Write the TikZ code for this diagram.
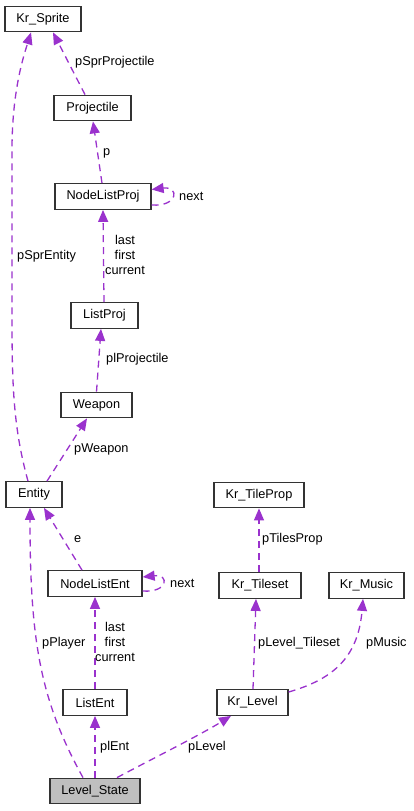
\documentclass[tikz,border=0pt]{standalone}
\usepackage{fontspec}
\setmainfont{Liberation Sans}
\usetikzlibrary{arrows.meta}
\definecolor{edgec}{HTML}{9A32CD}
\definecolor{boxgray}{HTML}{BFBFBF}
\begin{document}
\begin{tikzpicture}[x=1pt,y=-1pt,
  cls/.style={draw=black!80, line width=1.3pt, fill=white, inner sep=0pt,
    minimum height=25.5pt, font=\fontsize{12.75}{15}\selectfont},
  dep/.style={draw=edgec, line width=1.3pt, dash pattern=on 7pt off 5pt,
    -{Triangle[length=12pt,width=10pt,fill=edgec]}},
  lbl/.style={inner sep=0pt, anchor=west, font=\fontsize{12.75}{15}\selectfont},
  mlbl/.style={inner sep=0pt, align=center, font=\fontsize{12.75}{15}\selectfont}
]
\useasboundingbox (0,0) rectangle (414,811);
\fill[white] (0,0) rectangle (414,811);

% classes
\node[cls, minimum width=76pt] (spr) at (43,19) {Kr\_Sprite};
\node[cls, minimum width=77pt] (proj) at (92.5,108) {Projectile};
\node[cls, minimum width=96pt] (npj) at (103,196.5) {NodeListProj};
\node[cls, minimum width=67pt] (lpj) at (104.5,315.5) {ListProj};
\node[cls, minimum width=71pt] (wpn) at (96.5,405) {Weapon};
\node[cls, minimum width=56pt] (ent) at (34,494.5) {Entity};
\node[cls, minimum width=94pt] (nle) at (95,583.5) {NodeListEnt};
\node[cls, minimum width=64pt] (le) at (95,702.5) {ListEnt};
\node[cls, minimum width=90pt, fill=boxgray] (ls) at (95,791) {Level\_State};
\node[cls, minimum width=90pt] (tp) at (259,495) {Kr\_TileProp};
\node[cls, minimum width=82pt] (ts) at (260,585.5) {Kr\_Tileset};
\node[cls, minimum width=75pt] (mus) at (366.5,585.5) {Kr\_Music};
\node[cls, minimum width=71pt] (lvl) at (252.5,702.5) {Kr\_Level};

% connectors
\draw[dep] ([xshift=-7.5pt]proj.north) -- ([xshift=10pt]spr.south);
\draw[dep] ([xshift=-1pt]npj.north) -- ([xshift=0.5pt]proj.south);
\draw[dep] ([yshift=-8.5pt]npj.east) .. controls (178,207) and (180,186) .. ([yshift=7pt]npj.east);
\draw[dep] ([xshift=-0.5pt]lpj.north) -- (npj.south);
\draw[dep] (wpn.north) -- ([xshift=-3.5pt]lpj.south);
\draw[dep] ([xshift=13pt]ent.north) -- ([xshift=-9.5pt]wpn.south);
\draw[dep] ([xshift=-6pt]ent.north) .. controls (14,430) and (12,390) .. (12,320)
   -- (12,150) .. controls (12,90) and (24,55) .. ([xshift=-12pt]spr.south);
\draw[dep] ([xshift=-13pt]nle.north) -- ([xshift=10pt]ent.south);
\draw[dep] ([yshift=-7.5pt]nle.east) .. controls (168,593) and (170,574) .. ([yshift=6.5pt]nle.east);
\draw[dep] (le.north) -- (nle.south);
\draw[dep] (ls.north) -- (le.south);
\draw[dep] ([xshift=-12pt]ls.north) .. controls (40,700) and (30,640) .. ([xshift=-4pt]ent.south);
\draw[dep] ([xshift=22pt]ls.north) .. controls (150,760) and (200,735) .. ([xshift=-21.5pt]lvl.south);
\draw[dep] ([xshift=-1pt]ts.north) -- (tp.south);
\draw[dep] ([xshift=0.5pt]lvl.north) -- ([xshift=-4pt]ts.south);
\draw[dep] ([yshift=10.5pt]lvl.east) .. controls (330,680) and (358,660) .. ([xshift=-3.5pt]mus.south);

% labels
\node[lbl] (l1) at (75,62) {pSprProjectile};
\node[lbl] (l2) at (103,153) {p};
\node[lbl] (l3) at (179,196) {next};
\node[mlbl] (l4) at (125,255) {last\\first\\current};
\node[lbl] (l5) at (17,256) {pSprEntity};
\node[lbl] (l6) at (106,359) {plProjectile};
\node[lbl] (l7) at (74,449) {pWeapon};
\node[lbl] (l8) at (74,539) {e};
\node[lbl] (l9) at (170,583) {next};
\node[mlbl] (l10) at (115,642) {last\\first\\current};
\node[lbl] (l11) at (42,643) {pPlayer};
\node[lbl] (l12) at (100,747) {plEnt};
\node[lbl] (l13) at (188,747) {pLevel};
\node[lbl] (l14) at (262,539) {pTilesProp};
\node[lbl] (l15) at (258,643) {pLevel\_Tileset};
\node[lbl] (l16) at (366,643) {pMusic};
\end{tikzpicture}
\end{document}
